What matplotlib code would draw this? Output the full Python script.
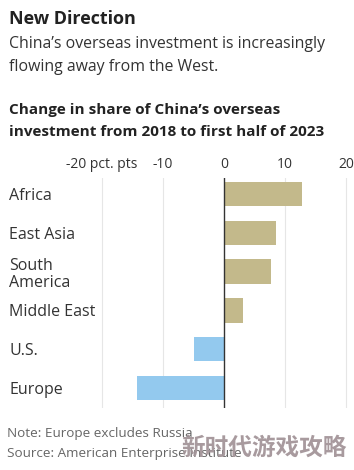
import matplotlib
matplotlib.use("Agg")
import matplotlib.pyplot as plt

categories = ["Africa", "East Asia", "South\nAmerica", "Middle East", "U.S.", "Europe"]
values = [12.8, 8.5, 7.7, 3.1, -4.9, -14.3]
tick_values = [-20, -10, 0, 10, 20]
tick_labels = ["-20 pct. pts", "-10", "0", "10", "20"]

pos_color = "#c3b98b"
neg_color = "#93c9ee"

plt.rcParams['font.family'] = ['Open Sans', 'DejaVu Sans']

W, H = 354, 470
fig = plt.figure(figsize=(W / 100, H / 100), dpi=100)
fig.patch.set_facecolor("white")

def fx(px):
    return px / W

def fy(py):
    return 1 - py / H

fig.text(fx(9), fy(19), "New Direction", fontsize=13, fontweight="bold", color="#222222", va="center", ha="left")
fig.text(fx(9), fy(44), "China\u2019s overseas investment is increasingly", fontsize=11.4, color="#333333", va="center", ha="left")
fig.text(fx(9), fy(67), "flowing away from the West.", fontsize=11.4, color="#333333", va="center", ha="left")
fig.text(fx(9), fy(110), "Change in share of China\u2019s overseas", fontsize=11, fontweight="bold", color="#222222", va="center", ha="left")
fig.text(fx(9), fy(132), "investment from 2018 to first half of 2023", fontsize=11, fontweight="bold", color="#222222", va="center", ha="left")

# axes geometry: zero at 224px, 6.1 px per unit
x0, ppu = 224.0, 6.1
xmin, xmax = -21, 21
left_px = x0 + xmin * ppu
right_px = x0 + xmax * ppu
top_px, bot_px = 178, 408
spacing = 38.8
c0 = 194
ytop = (top_px - c0) / spacing
ybot = (bot_px - c0) / spacing

ax = fig.add_axes([fx(left_px), fy(bot_px), (right_px - left_px) / W, (bot_px - top_px) / H])
ax.set_xlim(xmin, xmax)
ax.set_ylim(ybot, ytop)

ypos = list(range(len(categories)))
colors = [pos_color if v >= 0 else neg_color for v in values]
ax.barh(ypos, values, height=0.63, color=colors, zorder=2)

for t in tick_values:
    if t != 0:
        ax.axvline(t, color="#e6e6e6", lw=0.8, zorder=1)
ax.axvline(0, color="#333333", lw=1.0, zorder=3)

for s in ax.spines.values():
    s.set_visible(False)

ax.xaxis.tick_top()
ax.set_xticks(tick_values)
ax.set_xticklabels(tick_labels)
ax.tick_params(axis="x", length=0, pad=4, labelsize=10, labelcolor="#333333")

pad_px = left_px - 9
ax.set_yticks(ypos)
ax.set_yticklabels(categories)
ax.tick_params(axis="y", length=0, pad=pad_px * 72 / 100, labelsize=11.5, labelcolor="#333333")
for lab in ax.get_yticklabels():
    lab.set_horizontalalignment("left")
    lab.set_linespacing(1.1)

fig.text(fx(7), fy(433), "Note: Europe excludes Russia", fontsize=9.7, color="#666666", va="center", ha="left")
fig.text(fx(7), fy(453), "Source: American Enterprise Institute", fontsize=9.7, color="#666666", va="center", ha="left")

fig.text(fx(347), fy(448), "新时代游戏攻略", fontsize=17, fontweight="bold", color="#a39599",
         va="center", ha="right", family=["Noto Sans CJK SC", "DejaVu Sans"], alpha=0.95)

fig.savefig("out.png", dpi=100, facecolor="white")
